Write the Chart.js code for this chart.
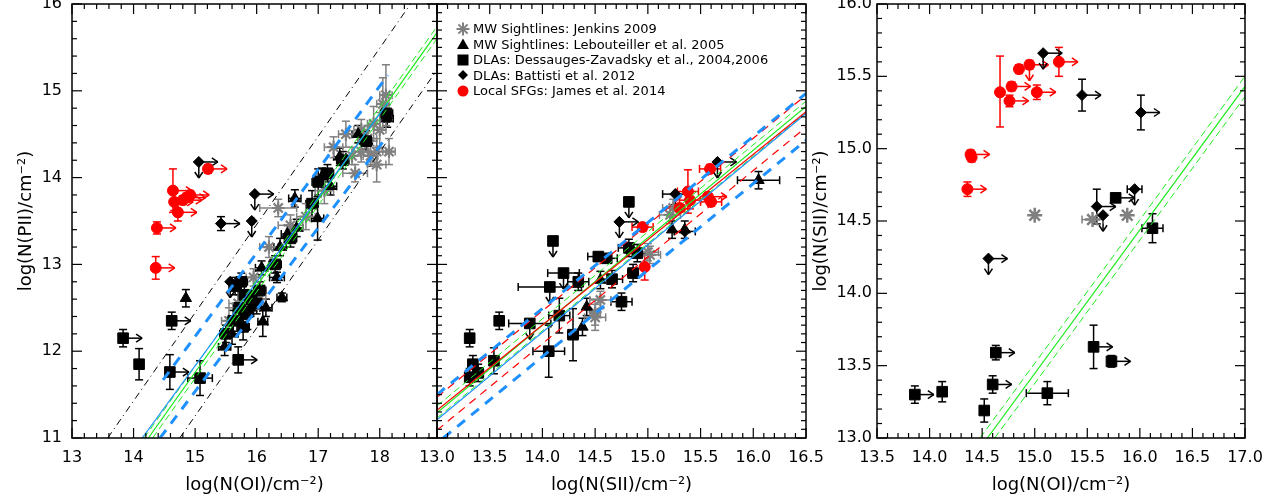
<!DOCTYPE html>
<html><head><meta charset="utf-8">
<script src="https://cdn.jsdelivr.net/npm/chart.js@4.4.0/dist/chart.umd.min.js"></script>
<style>
html,body{margin:0;padding:0;background:#fff;width:1281px;height:496px;overflow:hidden;position:relative;font-family:'DejaVu Sans',sans-serif;}
canvas{position:absolute;top:-20px;}
#legend{position:absolute;left:455px;top:21px;font-size:13px;color:#000;}
#legend div{display:flex;align-items:center;height:15.5px;white-space:nowrap}
#legend svg{width:16px;height:14px;margin-right:2px;flex:none}
</style></head><body>
<canvas id="c1" width="450" height="516" style="left:0px"></canvas>
<canvas id="c2" width="440" height="516" style="left:400px"></canvas>
<canvas id="c3" width="491" height="516" style="left:790px"></canvas>
<div id="legend">
 <div><svg viewBox="0 0 16 14"><g stroke="rgb(128,128,128)" stroke-width="2"><line x1="1.5" y1="7" x2="14.5" y2="7"/><line x1="8" y1="0.5" x2="8" y2="13.5"/><line x1="3.4" y1="2.4" x2="12.6" y2="11.6"/><line x1="3.4" y1="11.6" x2="12.6" y2="2.4"/></g></svg>MW Sightlines: Jenkins 2009</div>
 <div><svg viewBox="0 0 16 14"><polygon points="8,1.5 14,12 2,12" fill="#000"/></svg>MW Sightlines: Lebouteiller et al. 2005</div>
 <div><svg viewBox="0 0 16 14"><rect x="2.5" y="1.5" width="11" height="11" fill="#000"/></svg>DLAs: Dessauges-Zavadsky et al., 2004,2006</div>
 <div><svg viewBox="0 0 16 14"><polygon points="8,2 13,7 8,12 3,7" fill="#000"/></svg>DLAs: Battisti et al. 2012</div>
 <div><svg viewBox="0 0 16 14"><circle cx="8" cy="7" r="5.5" fill="rgb(255,0,0)"/></svg>Local SFGs: James et al. 2014</div>
</div>
<script>
// ---------------- DATA ----------------
// point rows: [x, y, xerr, yerr, arrowRight(lower limit), arrowDown(upper limit)]
// Panel 1: log N(OI) vs log N(PII)
const p1Jenkins = [
 [16.35,13.65,0.3,0.1],[17.25,14.35,0.15,0.12],[17.45,14.5,0.12,0.15],[17.55,14.25,0.15,0.1],
 [17.7,14.55,0.12,0.12],[17.8,14.45,0.15,0.15],[17.9,14.62,0.1,0.2],[17.95,14.3,0.15,0.15],
 [18.0,14.55,0.1,0.2],[18.05,14.85,0.1,0.3],[18.1,14.95,0.1,0.35],[17.7,14.3,0.12,0.12],
 [17.95,14.15,0.15,0.2],[17.85,14.25,0.12,0.12],[18.15,14.3,0.1,0.15],[17.6,14.05,0.2,0.1],
 [17.1,13.85,0.15,0.15],[16.8,13.55,0.15,0.15],[16.55,13.45,0.2,0.12],[16.2,13.2,0.15,0.12],
 [15.95,12.85,0.12,0.1],[15.7,12.55,0.15,0.15],[15.55,12.35,0.12,0.15],[16.05,12.6,0.1,0.12]
];
const p1Lebouteiller = [
 [14.85,12.61,0,0.1],[15.48,12.05,0.1,0.1],[15.6,12.2,0.1,0.12],[15.75,12.4,0.1,0.12],
 [16.08,12.96,0.1,0.08],[16.33,12.85,0.12,0.06],[16.41,12.62,0.08,0.05],[16.1,12.34,0.08,0.17],
 [16.15,12.5,0.1,0.1],[16.38,13.2,0.1,0.1],[16.62,13.76,0.1,0.1],[16.99,13.53,0.1,0.25],
 [17.06,14.01,0.1,0.1],[17.2,13.9,0.1,0.1],[17.35,14.24,0.1,0.1],[17.65,14.5,0.1,0.1],
 [17.76,14.43,0.1,0.1],[18.12,14.68,0.1,0.1],[16.5,13.35,0.1,0.1],[16.65,13.42,0.1,0.1],[15.9,12.5,0.1,0.1]
];
const p1Dessauges = [
 [13.83,12.15,0,0.1,1],[14.09,11.85,0,0.18],[14.59,11.76,0,0.2,1],[14.62,12.35,0,0.1,1],
 [15.08,11.69,0.2,0.2],[15.7,11.9,0,0.15,1],[15.65,12.75,0.1,0.1],[15.75,12.8,0.1,0.1],
 [15.8,12.65,0.1,0.15],[15.72,12.5,0.1,0.15],[15.85,12.45,0.1,0.2],[15.92,12.6,0.1,0.1],
 [15.62,12.35,0.1,0.12],[15.78,12.28,0.1,0.15],[16.0,12.55,0.15,0.12],[16.05,12.7,0.1,0.1],
 [15.5,12.2,0.1,0.1],[16.55,13.3,0.1,0.1],[16.9,13.7,0.1,0.15],[17.0,13.95,0.1,0.15],
 [17.15,14.05,0.1,0.1],[17.4,14.2,0.1,0.1],[17.78,14.42,0.1,0.12],[18.11,14.74,0.1,0.1],[16.3,13.0,0.1,0.1]
];
const p1Battisti = [
 [15.06,14.18,0,0,1,1],[15.97,13.81,0,0,1,1],[15.42,13.47,0,0.08,1,0],[15.92,13.5,0.03,0,0,1],[15.57,12.8,0,0,0,1]
];
const p1James = [
 [15.21,14.10,0,0.05,1],[14.64,13.85,0,0.25,1],[14.66,13.72,0,0.1,1],[14.72,13.60,0,0.1,1],
 [14.80,13.74,0,0.05,1],[14.92,13.80,0,0.05,1],[14.86,13.77,0,0.05,1],[14.38,13.42,0,0.07,1],[14.36,12.96,0,0.13,1]
];
// fit lines panel 1: endpoints [x,y]
const p1DashDotHi = [[13.58,11.0],[18.5,16.0]];
const p1DashDotLo = [[14.75,11.0],[18.93,15.24]];
const p1BlueFit = [[14.14,11.0],[18.13,14.86]];
const p1BlueHi = [[14.48,11.67],[18.13,15.18]];
const p1BlueLo = [[14.43,11.0],[18.05,14.41]];
const p1GreenFit = [[14.24,11.0],[18.93,15.67]];
const p1GreenHi = [[14.17,11.0],[18.93,15.74]];
const p1GreenLo = [[14.31,11.0],[18.93,15.60]];

// Panel 2: log N(SII) vs log N(PII)
const p2Jenkins = [
 [15.21,13.57,0.1,0.1],[15.24,13.65,0.1,0.1],[14.55,12.59,0.1,0.1],[14.5,12.39,0.1,0.15],
 [15.0,13.14,0.1,0.1],[15.02,13.11,0.1,0.1],[14.5,12.45,0.05,0.15]
];
const p2Lebouteiller = [
 [16.05,13.97,0.2,0.1],[15.23,13.4,0,0.1],[15.35,13.4,0,0.1],[14.38,12.28,0,0.1],[14.42,12.51,0,0.1],[14.55,12.82,0,0.1]
];
const p2Dessauges = [
 [13.31,12.15,0,0.1],[13.34,11.85,0,0.1],[13.39,11.75,0.05,0.1],[13.31,11.70,0,0.1],
 [13.54,11.89,0,0.15],[13.59,12.35,0,0.1],[13.88,12.32,0.2,0,0,1],[14.06,12.0,0.15,0.3],
 [14.07,12.74,0.3,0,0,1],[14.16,12.41,0.1,0.2],[14.2,12.9,0.15,0,0,1],[14.29,12.19,0.05,0.3],
 [14.34,12.8,0.1,0.1],[14.53,13.09,0.1,0.05],[14.61,13.07,0.1,0.05],[14.66,12.83,0.1,0.1],
 [14.75,12.57,0.1,0.1],[14.86,12.9,0.05,0.1],[14.82,13.19,0.1,0.1],[14.9,13.13,0.1,0.1],
 [14.82,13.72,0,0,0,1],[14.1,13.27,0,0,0,1]
];
const p2Battisti = [
 [14.73,13.49,0,0,1,1],[15.26,13.81,0.12,0,0,1],[15.66,14.18,0,0,1,1],[15.35,13.38,0.1,0]
];
const p2James = [
 [15.59,14.1,0.1,0.05],[15.38,13.84,0.1,0.25],[15.4,13.74,0.1,0.1],[15.57,13.78,0,0.05,1],
 [15.6,13.72,0.1,0.05],[14.95,13.43,0.1,0.05],[14.97,12.97,0,0.15],[15.3,13.65,0.05,0.05]
];
const p2GreenFit = [[13.0,11.29],[16.5,14.82]];
const p2GreenHi = [[13.0,11.37],[16.5,14.88]];
const p2GreenLo = [[13.0,11.23],[16.5,14.75]];
const p2RedFit = [[13.0,11.32],[16.5,14.76]];
const p2RedHi = [[13.0,11.47],[16.5,14.95]];
const p2RedLo = [[13.0,11.09],[16.5,14.58]];
const p2BlueFit = [[13.0,11.21],[16.5,14.74]];
const p2BlueHi = [[13.0,11.50],[16.5,14.97]];
const p2BlueLo = [[13.06,11.0],[16.5,14.43]];

// Panel 3: log N(OI) vs log N(SII)
const p3Jenkins = [[15.0,14.54,0,0],[15.55,14.51,0.1,0],[15.88,14.54,0,0]];
const p3Dessauges = [
 [15.77,14.66,0,0,1],[16.12,14.45,0.1,0.1],[13.86,13.3,0,0.06,1],[14.12,13.32,0,0.07],
 [14.52,13.19,0,0.08],[14.6,13.37,0,0.06,1],[14.63,13.59,0,0.05,1],[15.12,13.31,0.2,0.08],
 [15.56,13.63,0,0.15,1],[15.73,13.53,0,0.04,1]
];
const p3Battisti = [
 [15.08,15.66,0,0,1,1],[15.45,15.37,0,0.11,1],[16.01,15.25,0,0.12,1],[15.95,14.72,0.07,0,0,1],
 [15.59,14.6,0,0.12,1],[15.65,14.54,0,0,0,1],[14.56,14.24,0,0,1,1]
];
const p3James = [
 [14.67,15.39,0,[0.24,0.25]],[14.78,15.43,0,0.03,1],[14.76,15.33,0,0.04,1],[14.85,15.55,0,0.03],
 [14.95,15.58,0,0.03,1,1],[15.02,15.39,0,0.05,1],[15.23,15.6,0,0.1,1],[14.39,14.96,0,0.03,1],
 [14.4,14.94,0,0.03],[14.36,14.72,0,0.05,1]
];
const p3GreenFit = [[14.55,13.0],[17.0,15.43]];
const p3GreenHi = [[14.48,13.0],[17.0,15.5]];
const p3GreenLo = [[14.62,13.0],[17.0,15.36]];

// tick ranges
const p1XTicks = {min:13, max:18.93, step:1, minor:0.2, dec:0};
const p1YTicks = {min:11, max:16, step:1, minor:0.2, dec:0};
const p2XTicks = {min:13, max:16.5, step:0.5, minor:0.1, dec:1};
const p2YTicks = {min:11, max:16, step:1, minor:0.1, dec:0};
const p3XTicks = {min:13.5, max:17, step:0.5, minor:0.1, dec:1};
const p3YTicks = {min:13, max:16, step:0.5, minor:0.1, dec:1};

// ---------------- STYLE ----------------
const FONT = "'DejaVu Sans', sans-serif";
const GREY = 'rgb(128,128,128)', RED = 'rgb(255,0,0)', BLUE = 'rgb(30,144,255)', GREEN = 'rgb(30,235,30)';

function ptsOf(arr){ return arr.map(a=>({x:a[0],y:a[1],ex:a[2]||0,ey:a[3]||0,ar:a[4]||0,ad:a[5]||0})); }
const ST = {
 jenkins:{label:'MW Sightlines: Jenkins 2009',pointStyle:'star',pointRadius:6.5,pointBorderWidth:2.2,borderColor:GREY,backgroundColor:GREY,errColor:GREY},
 lebout:{label:'MW Sightlines: Lebouteiller et al. 2005',pointStyle:'triangle',pointRadius:6.5,pointBorderWidth:1,borderColor:'#000',backgroundColor:'#000',errColor:'#000'},
 dessa:{label:'DLAs: Dessauges-Zavadsky et al., 2004,2006',pointStyle:'rect',pointRadius:7.5,pointBorderWidth:1,borderColor:'#000',backgroundColor:'#000',errColor:'#000'},
 batt:{label:'DLAs: Battisti et al. 2012',pointStyle:'rectRot',pointRadius:5.5,pointBorderWidth:1,borderColor:'#000',backgroundColor:'#000',errColor:'#000'},
 james:{label:'Local SFGs: James et al. 2014',pointStyle:'circle',pointRadius:5.5,pointBorderWidth:1,borderColor:RED,backgroundColor:RED,errColor:RED}
};
function markers(arr, st){ return Object.assign({data:ptsOf(arr), showLine:false, order:2}, st); }
function line(arr, color, width, dash){
 return {label:'fit', data:arr.map(p=>({x:p[0],y:p[1]})), showLine:true, pointRadius:0, borderColor:color,
   borderWidth:width, borderDash:dash||[], fill:false, order:0};
}

const errPlugin = {
 id:'errbars',
 beforeDatasetsDraw(chart){
  const {ctx, chartArea:a, scales:{x, y}} = chart;
  ctx.save(); ctx.beginPath(); ctx.rect(a.left, a.top, a.right-a.left, a.bottom-a.top); ctx.clip();
  ctx.lineWidth = 1.5;
  const seg=(x1,y1,x2,y2)=>{ctx.beginPath();ctx.moveTo(x1,y1);ctx.lineTo(x2,y2);ctx.stroke();};
  chart.data.datasets.forEach(ds=>{
   if(!ds.errColor) return;
   ctx.strokeStyle = ds.errColor;
   ds.data.forEach(p=>{
    const px=x.getPixelForValue(p.x), py=y.getPixelForValue(p.y);
    if(p.ex){ const l=x.getPixelForValue(p.x-p.ex), r=x.getPixelForValue(p.x+p.ex);
      seg(l,py,r,py); seg(l,py-4,l,py+4); seg(r,py-4,r,py+4); }
    if(p.ey){ const lo=Array.isArray(p.ey)?p.ey[0]:p.ey, hi=Array.isArray(p.ey)?p.ey[1]:p.ey;
      const b=y.getPixelForValue(p.y-lo), t=y.getPixelForValue(p.y+hi);
      seg(px,b,px,t); seg(px-4,b,px+4,b); seg(px-4,t,px+4,t); }
    if(p.ar){ const e=px+19; seg(px,py,e,py); seg(e,py,e-6,py-4); seg(e,py,e-6,py+4); }
    if(p.ad){ const e=py+16; seg(px,py,px,e); seg(px,e,px-4,e-6); seg(px,e,px+4,e-6); }
   });
  });
  ctx.restore();
 }
};

const framePlugin = {
 id:'frame',
 afterDatasetsDraw(chart, args, o){
  const {ctx, chartArea:a, scales:{x, y}} = chart;
  ctx.save(); ctx.strokeStyle='#000'; ctx.lineWidth=1.5;
  ctx.strokeRect(a.left, a.top, a.right-a.left, a.bottom-a.top);
  const seg=(x1,y1,x2,y2)=>{ctx.beginPath();ctx.moveTo(x1,y1);ctx.lineTo(x2,y2);ctx.stroke();};
  const draw=(scale, minor, horiz)=>{
   const majors = scale.ticks.map(t=>t.value);
   const k0=Math.ceil(scale.min/minor-1e-6), k1=Math.floor(scale.max/minor+1e-6);
   for(let k=k0;k<=k1;k++){
    const v=k*minor; const isMaj=majors.some(m=>Math.abs(m-v)<1e-6);
    const L=isMaj?10:5; const p=scale.getPixelForValue(v);
    if(horiz){ seg(p,a.bottom,p,a.bottom-L); seg(p,a.top,p,a.top+L); }
    else { seg(a.left,p,a.left+L,p); seg(a.right,p,a.right-L,p); }
   }
  };
  ctx.lineWidth=1.2;
  draw(x, o.xMinor, true); draw(y, o.yMinor, false);
  ctx.restore();
 }
};

function build(id, datasets, X, Y, cfg){
 const tf = {family:FONT, size:16};
 const ttf = {family:FONT, size:18};
 return new Chart(document.getElementById(id), {
  type:'scatter',
  data:{datasets},
  plugins:[errPlugin, framePlugin],
  options:{
   responsive:false, animation:false, events:[],
   layout:{padding:{left:0, top:24, right:cfg.padRight, bottom:0}},
   plugins:{legend:{display:false}, tooltip:{enabled:false}, frame:{xMinor:X.minor, yMinor:Y.minor}},
   scales:{
    x:{type:'linear', min:X.min, max:X.max,
       ticks:{stepSize:X.step, includeBounds:false, color:'#000', font:tf, padding:10, maxRotation:0,
              callback:v=>Number(v).toFixed(X.dec)},
       grid:{display:false, drawTicks:false}, border:{display:false},
       title:{display:true, text:cfg.xtitle, color:'#000', font:ttf, padding:{top:0,bottom:0}},
       afterFit(s){ s.height = 58; }},
    y:{type:'linear', min:Y.min, max:Y.max,
       ticks:{display:cfg.yLabels, stepSize:Y.step, includeBounds:false, color:'#000', font:tf, padding:cfg.yPad,
              callback:v=>Number(v).toFixed(Y.dec)},
       grid:{display:false, drawTicks:false}, border:{display:false},
       title:{display:!!cfg.ytitle, text:cfg.ytitle||'', color:'#000', font:ttf, padding:{top:cfg.yTitlePad||0,bottom:0}},
       afterFit(s){ s.width = cfg.yWidth; }}
   }
  }
 });
}

build('c1', [
  line(p1DashDotHi,'#000',1,[7,4,1,4]), line(p1DashDotLo,'#000',1,[7,4,1,4]),
  line(p1BlueFit,BLUE,1.2), line(p1BlueHi,BLUE,3,[10,8]), line(p1BlueLo,BLUE,3,[10,8]),
  line(p1GreenFit,GREEN,1.2), line(p1GreenHi,GREEN,1,[7,4]), line(p1GreenLo,GREEN,1,[7,4]),
  markers(p1James,ST.james), markers(p1Battisti,ST.batt), markers(p1Dessauges,ST.dessa),
  markers(p1Lebouteiller,ST.lebout), markers(p1Jenkins,ST.jenkins)
 ], p1XTicks, p1YTicks,
 {padRight:13, xtitle:'log(N(OI)/cm⁻²)', ytitle:'log(N(PII)/cm⁻²)', yLabels:true, yPad:10, yWidth:72, yTitlePad:16});

build('c2', [
  line(p2BlueFit,BLUE,1.2), line(p2BlueHi,BLUE,3,[10,8]), line(p2BlueLo,BLUE,3,[10,8]),
  line(p2RedFit,RED,1.2), line(p2RedHi,RED,1.2,[8,6]), line(p2RedLo,RED,1.2,[8,6]),
  line(p2GreenFit,GREEN,1.2), line(p2GreenHi,GREEN,1,[7,4]), line(p2GreenLo,GREEN,1,[7,4]),
  markers(p2James,ST.james), markers(p2Battisti,ST.batt), markers(p2Dessauges,ST.dessa),
  markers(p2Lebouteiller,ST.lebout), markers(p2Jenkins,ST.jenkins)
 ], p2XTicks, p2YTicks,
 {padRight:34, xtitle:'log(N(SII)/cm⁻²)', ytitle:null, yLabels:false, yPad:0, yWidth:37});

build('c3', [
  line(p3GreenFit,GREEN,1.2), line(p3GreenHi,GREEN,1,[7,4]), line(p3GreenLo,GREEN,1,[7,4]),
  markers(p3James,ST.james), markers(p3Battisti,ST.batt), markers(p3Dessauges,ST.dessa),
  markers(p3Jenkins,Object.assign({},ST.jenkins,{pointRadius:7.5,pointBorderWidth:2.5}))
 ], p3XTicks, p3YTicks,
 {padRight:36, xtitle:'log(N(OI)/cm⁻²)', ytitle:'log(N(SII)/cm⁻²)', yLabels:true, yPad:5, yWidth:87, yTitlePad:21});
</script>
</body></html>
